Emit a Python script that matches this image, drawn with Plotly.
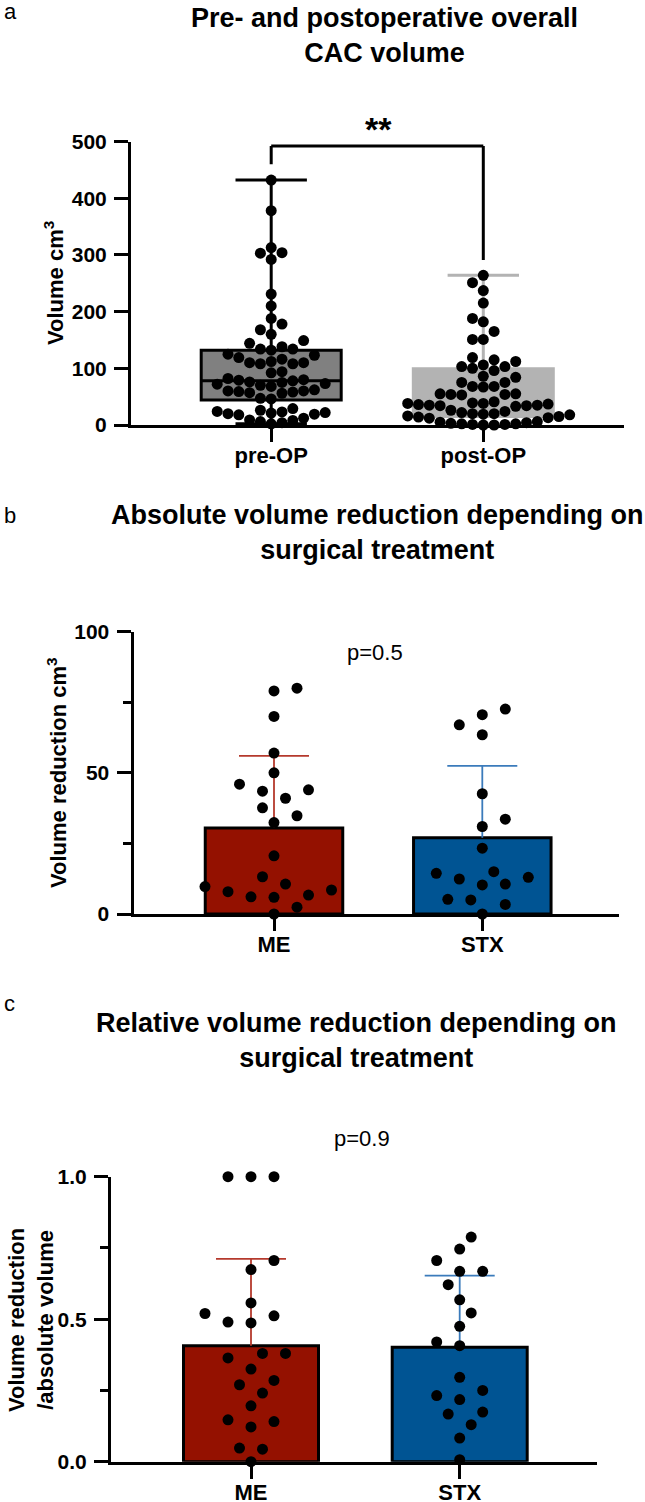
import plotly.graph_objects as go

W, H = 645, 1502
FONT = "Liberation Sans, Arial, Helvetica, sans-serif"

# ---------------- data ----------------
groups_a = ["pre-OP", "post-OP"]
pre_op = [432, 378, 313, 304, 303, 292, 231, 210, 188, 178,
          168, 160, 149, 144, 138, 134, 134, 132, 125, 123,
          119, 116, 112, 110, 110, 108, 108, 94, 92, 82,
          80, 79, 78, 76, 75, 73, 72, 70, 68, 62,
          60, 60, 59, 58, 57, 56, 47, 46, 29, 26,
          24, 23, 22, 21, 20, 19, 18, 12, 9, 8, 6, 4, 2]
post_op = [264, 251, 237, 215, 188, 182, 165, 151, 151, 119,
           115, 112, 106, 103, 103, 100, 96, 86, 84, 75,
           75, 68, 68, 67, 55, 55, 54, 54, 53, 41,
           39, 38, 38, 37, 36, 35, 35, 34, 34, 33,
           26, 24, 22, 20, 20, 19, 18, 16, 15, 14,
           13, 12, 6, 5, 4, 3, 2, 2, 1, 1, 0, 0]
# box statistics: min, q1, median, q3, max
pre_stats = [2, 44, 78, 132, 432]
post_stats = [0, 15, 38, 99, 264]
ticks_a = [0, 100, 200, 300, 400, 500]

groups_bc = ["ME", "STX"]
abs_me = [80, 79, 70, 57, 50, 46, 44, 43.5, 41, 37.6, 34.8, 32.4,
          20.6, 13.2, 10.6, 9.7, 8.5, 7.9, 6.7, 6.1, 5.9, 2.4, 0]
abs_stx = [72.6, 70.6, 67, 63.5, 42.6, 33.6, 31, 23.3, 15, 14.4,
           13, 12.4, 10.6, 10.3, 5.2, 5, 3.4, 0]
abs_mean = [30.5, 27.0]
abs_sd = [25.5, 25.5]
ticks_b = [0, 50, 100]

rel_me = [1.0, 1.0, 1.0, 0.706, 0.674, 0.557, 0.52, 0.512, 0.49, 0.487,
          0.38, 0.38, 0.364, 0.325, 0.285, 0.27, 0.241, 0.196, 0.147,
          0.141, 0.122, 0.048, 0.044, 0.0]
rel_stx = [0.788, 0.746, 0.706, 0.668, 0.668, 0.621, 0.568, 0.522, 0.475,
           0.42, 0.407, 0.296, 0.25, 0.232, 0.218, 0.174, 0.167, 0.13,
           0.083, 0.007]
rel_mean = [0.407, 0.402]
rel_sd = [0.305, 0.251]
ticks_c = [0.0, 0.5, 1.0]

# ---------------- layout helpers ----------------
def px(x):
    return x / W


def py(y):
    return 1 - y / H


GEO = {
    "a": dict(l=131, r=623.5, t=141.5, b=425, c=(271.2, 483.3), yr=(0, 500)),
    "b": dict(l=133.5, r=619, t=631.7, b=914, c=(274, 482.3), yr=(0, 100)),
    "c": dict(l=111, r=596.7, t=1176.7, b=1461.7, c=(251, 459.7), yr=(0, 1)),
}


def xrange_of(g):
    u = g["c"][1] - g["c"][0]
    return [(g["l"] - g["c"][0]) / u, (g["r"] - g["c"][0]) / u]


def ppu(g):
    return (g["b"] - g["t"]) / (g["yr"][1] - g["yr"][0]), g["c"][1] - g["c"][0]


def swarm(vals, g, step, dmin):
    """Balanced beeswarm: each point takes the free grid column closest to
    the centre; ties go to the side that keeps the swarm balanced."""
    ppy, ppx = ppu(g)
    order = sorted(range(len(vals)), key=lambda i: vals[i])
    placed = []
    off = [0.0] * len(vals)
    balance = 0.0

    def free(xv, yv):
        return all((xv - a) ** 2 + (yv - b) ** 2 >= dmin ** 2 - 1e-6
                   for a, b in placed)

    for i in order:
        yv = vals[i] * ppy
        xv = 0.0
        if not free(0.0, yv):
            for j in range(1, 80):
                opts = [s * j * step for s in ((-1, 1) if balance > 0 else (1, -1))]
                ok = [o for o in opts if free(o, yv)]
                if ok:
                    xv = ok[0]
                    break
        placed.append((xv, yv))
        balance += xv
        off[i] = xv / ppx
    return off


fig = go.Figure()

# ---------------- panel a ----------------
ga = GEO["a"]
box_w = 140 / (ga["c"][1] - ga["c"][0])
for k, (st, fill, lc) in enumerate([(pre_stats, "#808080", "black"),
                                     (post_stats, "#b3b3b3", "#b3b3b3")]):
    fig.add_trace(go.Box(
        x=[k], lowerfence=[st[0]], q1=[st[1]], median=[st[2]], q3=[st[3]],
        upperfence=[st[4]], orientation="v", width=box_w, whiskerwidth=0.51,
        fillcolor=fill, line=dict(color=lc, width=3), boxpoints=False,
        xaxis="x", yaxis="y", hoverinfo="skip"))
for k, vals in enumerate([pre_op, post_op]):
    off = swarm(vals, ga, 10.8, 10.5)
    fig.add_trace(go.Scatter(
        x=[k + o for o in off], y=vals, mode="markers",
        marker=dict(color="black", size=11), cliponaxis=False,
        xaxis="x", yaxis="y", hoverinfo="skip"))

# ---------------- panels b and c ----------------
bar_cols = ["#941100", "#005493"]
err_cols = ["#b5392c", "#3b7bbb"]


def bar_panel(xa, ya, g, means, sds, series, bw_px):
    bw = bw_px / (g["c"][1] - g["c"][0])
    cap = 35 / (g["c"][1] - g["c"][0])
    for k in range(2):
        fig.add_trace(go.Bar(
            x=[k], y=[means[k]], width=bw, marker=dict(color=bar_cols[k],
            line=dict(color="black", width=3)), xaxis=xa, yaxis=ya,
            hoverinfo="skip"))
    for k in range(2):
        top = means[k] + sds[k]
        fig.add_trace(go.Scatter(
            x=[k, k, None, k - cap, k + cap], y=[means[k], top, None, top, top],
            mode="lines", line=dict(color=err_cols[k], width=1.8),
            xaxis=xa, yaxis=ya, hoverinfo="skip", cliponaxis=False))
    for k, vals in enumerate(series):
        off = swarm(vals, g, 11.5, 16)
        fig.add_trace(go.Scatter(
            x=[k + o for o in off], y=vals, mode="markers",
            marker=dict(color="black", size=11), cliponaxis=False,
            xaxis=xa, yaxis=ya, hoverinfo="skip"))


bar_panel("x2", "y2", GEO["b"], abs_mean, abs_sd, [abs_me, abs_stx], 137.5)
bar_panel("x3", "y3", GEO["c"], rel_mean, rel_sd, [rel_me, rel_stx], 135)

# ---------------- axes ----------------
ytickfont = dict(family=FONT, size=21, color="black", weight="bold")
xtickfont = dict(family=FONT, size=22, color="black", weight="bold")


def xaxis(g, groups, anchor):
    return dict(domain=[px(g["l"]), px(g["r"])], range=xrange_of(g),
                tickvals=[0, 1], ticktext=groups, showline=True,
                linecolor="black", linewidth=3, ticks="outside", ticklen=14,
                tickwidth=3, tickcolor="black", showgrid=False, zeroline=False,
                tickfont=xtickfont, anchor=anchor, ticklabelstandoff=-5,
                automargin=False)


def yaxis(g, tv, anchor, minor=None, fmt=None):
    d = dict(domain=[py(g["b"]), py(g["t"])], range=list(g["yr"]),
             tickvals=tv, showline=True, linecolor="black", linewidth=3,
             ticks="outside", ticklen=14, tickwidth=3, tickcolor="black",
             showgrid=False, zeroline=False, tickfont=ytickfont, anchor=anchor,
             ticklabelstandoff=3, automargin=False)
    if minor is not None:
        d["minor"] = dict(tickvals=minor, ticks="outside", ticklen=8,
                          tickwidth=3, tickcolor="black", showgrid=False)
    if fmt:
        d["tickformat"] = fmt
    return d


fig.update_layout(
    template="none",
    xaxis=xaxis(GEO["a"], groups_a, "y"),
    yaxis=yaxis(GEO["a"], ticks_a, "x"),
    xaxis2=xaxis(GEO["b"], groups_bc, "y2"),
    yaxis2=yaxis(GEO["b"], ticks_b, "x2", minor=[25, 75]),
    xaxis3=xaxis(GEO["c"], groups_bc, "y3"),
    yaxis3=yaxis(GEO["c"], ticks_c, "x3", minor=[0.25, 0.75], fmt=".1f"),
)

# significance bracket (panel a)
br_left, br_top, br_right = 460, 492, 291
for x0, y0, x1, y1 in [(0, br_left, 0, br_top), (0, br_top, 1, br_top), (1, br_top, 1, br_right)]:
    fig.add_shape(type="line", xref="x", yref="y", x0=x0, y0=y0, x1=x1, y1=y1,
                  line=dict(color="black", width=3))


def ann(text, x, y, size, bold=True, angle=0, xanchor="center", family=FONT):
    fig.add_annotation(text=text, x=px(x), y=py(y), xref="paper", yref="paper",
                       showarrow=False, textangle=angle, xanchor=xanchor,
                       yanchor="middle",
                       font=dict(family=family, size=size, color="black",
                                 weight="bold" if bold else "normal"))


ann("a", 2, 12, 22, bold=False, xanchor="left")
ann("Pre- and postoperative overall<br>CAC volume", 384.4, 35.5, 27)
ann("**", 378, 129.5, 34)
ann("Volume cm<sup>3</sup>", 54, 283, 22, angle=-90)

ann("b", 2, 515, 22, bold=False, xanchor="left")
ann("Absolute volume reduction depending on<br>surgical treatment", 377.6, 532.5, 27)
ann("Volume reduction cm<sup>3</sup>", 56.5, 772.5, 22, angle=-90)
ann("p=0.5", 374.5, 652, 22, bold=False)

ann("c", 2, 1003, 22, bold=False, xanchor="left")
ann("Relative volume reduction depending on<br>surgical treatment", 356, 1040, 27)
ann("Volume reduction<br>/absolute volume", 31, 1320, 22, angle=-90)
ann("p=0.9", 362, 1138, 22, bold=False)

fig.update_layout(
    width=W, height=H, margin=dict(l=0, r=0, t=0, b=0, pad=0),
    paper_bgcolor="white", plot_bgcolor="white", showlegend=False,
    barmode="overlay", font=dict(family=FONT, color="black"),
)

fig.write_html(
    "out.html",
    config={"displayModeBar": False, "staticPlot": True},
    post_script="document.documentElement.style.margin='0';"
                "document.body.style.margin='0';"
                "document.body.style.overflow='hidden';",
)
